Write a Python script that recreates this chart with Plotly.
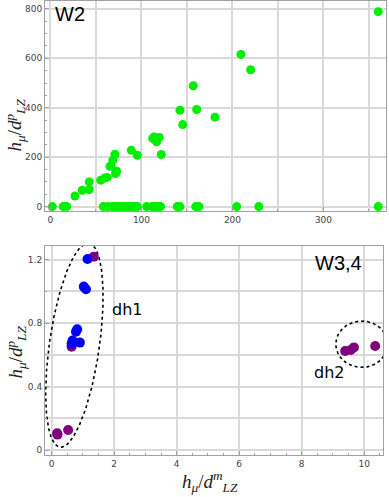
import numpy as np
import plotly.graph_objects as go

# ---------------- data ----------------
# W2 panel (top)
w2_x = [26.9, 34.9, 42.6, 42.6, 55.2, 59.9, 62.4, 65.4, 66.5, 68.5, 70.9, 72.7, 71.5,
        88.8, 95.4, 112.3, 113.7, 116.7, 119.6, 121.8, 142.3, 145.3, 156.9, 160.7,
        180.8, 209.3, 220.0, 360.2]
w2_y = [43, 66, 69, 100, 107, 116, 118, 163, 165, 188, 212, 143, 134,
        228, 208, 276, 282, 262, 280, 211, 390, 332, 489, 393,
        362, 616, 554, 789]
w2_zero_x = [2, 14, 17.8, 58, 63, 68, 70, 73.4, 76, 79, 82, 84.4, 88, 91, 93, 95.4,
             105.7, 111.5, 114, 116, 119, 121, 139.3, 142.3, 159.6, 163.2, 204.6, 229, 360.2]
w2_zero_y = [0] * len(w2_zero_x)

# W3,4 panel (bottom)
blue_x = [1.15, 1.03, 1.10, 0.82, 0.78, 0.67, 0.64, 0.905]
blue_y = [1.204, 1.030, 1.013, 0.761, 0.746, 0.690, 0.670, 0.677]
purple_x = [1.35, 0.64, 0.18, 0.19, 0.53, 9.39, 9.57, 9.67, 10.35]
purple_y = [1.219, 0.651, 0.105, 0.097, 0.126, 0.624, 0.630, 0.647, 0.656]

# group ellipses (annotation outlines): centre, half-axis vectors
dh1_center = (0.73, 0.661)
dh1_major = (0.464, 0.643)
dh1_minor = (0.792, -0.022)
dh2_center = (9.92, 0.667)
dh2_radii = (0.826, 0.146)

top_xticks = [0, 100, 200, 300]
top_yticks = [0, 200, 400, 600, 800]
bot_xticks = [0, 2, 4, 6, 8, 10]
bot_yticks = [0, 0.4, 0.8, 1.2]

# ---------------- figure ----------------
GREEN = "rgb(0,238,0)"
BLUE = "rgb(0,0,245)"
PURPLE = "rgb(128,0,128)"

fig = go.Figure()

fig.add_trace(go.Scatter(x=w2_zero_x, y=w2_zero_y, mode="markers",
                         marker=dict(color=GREEN, size=9, line=dict(width=0)),
                         xaxis="x", yaxis="y", cliponaxis=False))
fig.add_trace(go.Scatter(x=w2_x, y=w2_y, mode="markers",
                         marker=dict(color=GREEN, size=9, line=dict(width=0)),
                         xaxis="x", yaxis="y", cliponaxis=False))

t = np.linspace(0, 2 * np.pi, 241)
e1x = dh1_center[0] + dh1_major[0] * np.cos(t) + dh1_minor[0] * np.sin(t)
e1y = dh1_center[1] + dh1_major[1] * np.cos(t) + dh1_minor[1] * np.sin(t)
e2x = dh2_center[0] + dh2_radii[0] * np.cos(t)
e2y = dh2_center[1] + dh2_radii[1] * np.sin(t)
for ex, ey in [(e1x, e1y), (e2x, e2y)]:
    fig.add_trace(go.Scatter(x=ex, y=ey, mode="lines",
                             line=dict(color="black", width=1.6, dash="dot"),
                             xaxis="x2", yaxis="y2", hoverinfo="skip"))

fig.add_trace(go.Scatter(x=purple_x, y=purple_y, mode="markers",
                         marker=dict(color=PURPLE, size=10, line=dict(width=0)),
                         xaxis="x2", yaxis="y2"))
fig.add_trace(go.Scatter(x=blue_x, y=blue_y, mode="markers",
                         marker=dict(color=BLUE, size=10, line=dict(width=0)),
                         xaxis="x2", yaxis="y2"))

W, H = 389, 497
tickfont = dict(family="DejaVu Sans", size=9, color="#444")
grid = "#d9d9d9"
frame = "#a0a0a0"

def ax(**kw):
    base = dict(showline=True, linecolor=frame, linewidth=1, mirror=True,
                ticks="inside", ticklen=4, tickcolor=frame, tickwidth=1,
                showgrid=True, gridcolor=grid, gridwidth=1.5, zeroline=False,
                tickfont=tickfont, tickmode="array")
    base.update(kw)
    return base

def minor(dtick, grid_on):
    return dict(tickmode="linear", tick0=0, dtick=dtick, ticks="inside",
                ticklen=2, tickcolor=frame, showgrid=grid_on,
                gridcolor=grid, gridwidth=1.5)

fig.update_layout(
    width=W, height=H, showlegend=False,
    margin=dict(l=0, r=0, t=0, b=0),
    paper_bgcolor="white", plot_bgcolor="white",
    xaxis=ax(domain=[45 / W, 386 / W], anchor="y", range=[-6.0, 368.7],
             tickvals=top_xticks, ticktext=[str(v) for v in top_xticks],
             minor=minor(50, True)),
    yaxis=ax(domain=[1 - 211 / H, 1 - 1 / H], anchor="x", range=[-17.8, 832],
             tickvals=top_yticks, ticktext=[str(v) for v in top_yticks],
             minor=minor(50, False)),
    xaxis2=ax(domain=[45 / W, 383 / W], anchor="y2", range=[-0.21, 10.60],
              tickvals=bot_xticks, ticktext=[str(v) for v in bot_xticks],
              minor=minor(0.5, False)),
    yaxis2=ax(domain=[1 - 455 / H, 1 - 245.7 / H], anchor="x2", range=[-0.0315, 1.288],
              tickvals=bot_yticks, ticktext=[f"{v:g}" for v in bot_yticks],
              minor=minor(0.2, True)),
)

ytitle = "<i>h</i><sub><i>μ</i></sub>/<i>d</i><sup><i>p</i></sup><sub><i>LZ</i></sub>"
xtitle = "<i>h</i><sub><i>μ</i></sub>/<i>d</i><sup><i>m</i></sup><sub><i>LZ</i></sub>"
titlefont = dict(family="Liberation Serif", size=19, color="#222")

annots = [
    dict(text=ytitle, xref="paper", yref="paper", x=0, xanchor="left",
         y=1 - 125 / H, yanchor="middle",
         textangle=-90, showarrow=False, font=titlefont),
    dict(text=ytitle, xref="paper", yref="paper", x=0, xanchor="left",
         y=1 - 352 / H, yanchor="middle",
         textangle=-90, showarrow=False, font=titlefont),
    dict(text=xtitle, xref="paper", yref="paper", x=210 / W, xanchor="center",
         y=0, yanchor="bottom", showarrow=False, font=titlefont),
    dict(text="W2", xref="x", yref="y", x=2.7, y=779, xanchor="left", yanchor="middle",
         showarrow=False, font=dict(family="Liberation Sans", size=20, color="black")),
    dict(text="W3,4", xref="x2", yref="y2", x=9.18, y=1.176,
         xanchor="center", yanchor="middle",
         showarrow=False, font=dict(family="Liberation Sans", size=20, color="black")),
    dict(text="dh1", xref="x2", yref="y2", x=2.41, y=0.883,
         xanchor="center", yanchor="middle",
         showarrow=False, font=dict(family="DejaVu Sans", size=16, color="black")),
    dict(text="dh2", xref="x2", yref="y2", x=8.87, y=0.489,
         xanchor="center", yanchor="middle",
         showarrow=False, font=dict(family="DejaVu Sans", size=16, color="black")),
]
fig.update_layout(annotations=annots)

fig.write_html("out.html", config={"displayModeBar": False},
               post_script="document.body.style.margin='0';"
                           "document.body.style.overflow='hidden';")
